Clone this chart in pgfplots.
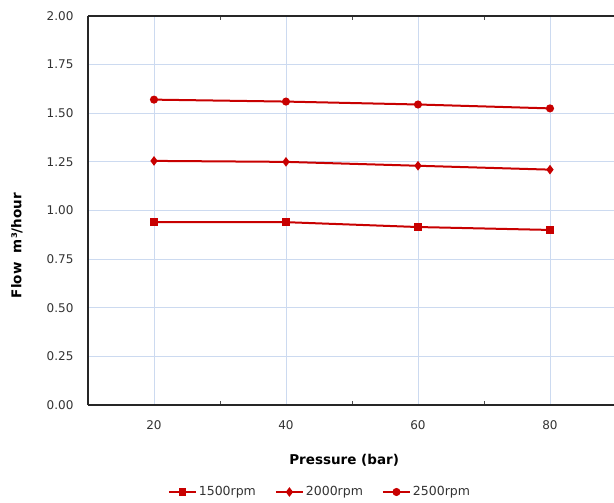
\documentclass[border=0pt]{standalone}
\usepackage{fontspec}
\setmainfont{DejaVu Sans}
\usepackage{pgfplots}
\pgfplotsset{compat=1.18}
\definecolor{serred}{HTML}{C80000}
\definecolor{gridblue}{HTML}{CCDAF0}
\begin{document}
\begin{tikzpicture}
\path[use as bounding box] (-88pt,-98pt) rectangle (526pt,405pt);
\begin{axis}[
  scale only axis,
  width=526pt, height=389pt,
  xmin=10, xmax=89.7, ymin=0, ymax=2,
  axis x line*=box, axis y line*=left,
  axis line style={line width=1.6pt, black!85},
  xtick={20,40,60,80},
  minor xtick={30,50,70},
  ytick={0,0.25,...,2},
  major tick length=0pt,
  minor tick length=4pt,
  minor tick style={black!70, line width=0.6pt},
  xmajorgrids, ymajorgrids,
  major grid style={gridblue, line width=0.9pt},
  /pgf/number format/assume math mode=true,
  yticklabel style={/pgf/number format/fixed, /pgf/number format/fixed zerofill, /pgf/number format/precision=2, font=\fontsize{12}{14}\selectfont, text=black!80, xshift=-11pt},
  xticklabel style={font=\fontsize{12}{14}\selectfont, text=black!80, yshift=-12pt},
  xlabel={\textbf{Pressure (bar)}},
  xlabel style={font=\fontsize{13.5}{15}\selectfont, at={(axis description cs:0.487,0)}, anchor=center, yshift=-55pt},
  ylabel={\textbf{Flow\ \ m³/hour}},
  ylabel style={font=\fontsize{13.5}{15}\selectfont, at={(axis description cs:-0.135,0.41)}, anchor=center},
  legend style={at={(axis description cs:0.441,0)}, anchor=center, yshift=-87pt, draw=none, fill=none, legend columns=3, font=\fontsize{12.5}{14}\selectfont, /tikz/every even column/.append style={column sep=17pt}, text=black!80, inner sep=0pt},
  legend image code/.code={\draw[#1, mark=none] (0pt,0pt) -- (27pt,0pt); \draw[#1, only marks] plot coordinates {(13.5pt,0pt)};},
  legend cell align=left,
  every axis plot/.append style={serred, line width=2pt},
  clip=false,
]
\addplot[mark=square*, mark size=2.8pt, mark options={solid}] coordinates {(20,0.94) (40,0.94) (60,0.915) (80,0.90)};
\addplot[mark=diamond*, mark size=3.2pt] coordinates {(20,1.255) (40,1.25) (60,1.23) (80,1.21)};
\addplot[mark=*, mark size=3pt] coordinates {(20,1.57) (40,1.56) (60,1.545) (80,1.525)};
\legend{1500rpm,2000rpm,2500rpm}
\end{axis}
\end{tikzpicture}
\end{document}
